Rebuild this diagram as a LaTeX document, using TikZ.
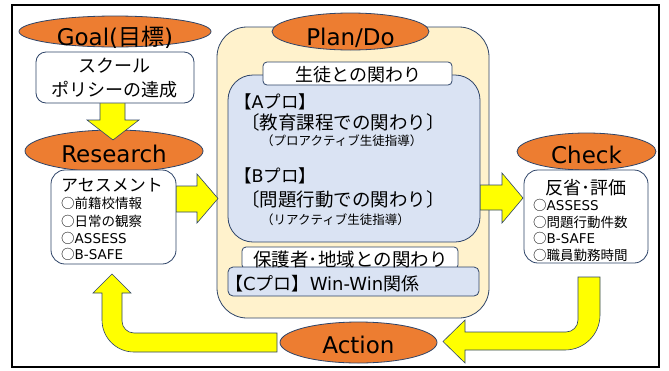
\documentclass[tikz,border=0pt]{standalone}
\usepackage{fontspec}
\setmainfont{Noto Sans CJK JP}
\newfontfamily\lat{DejaVu Sans}
\usetikzlibrary{shapes.geometric}
\definecolor{orng}{HTML}{ED7D31}
\definecolor{edgec}{HTML}{2E4468}
\definecolor{beige}{HTML}{FFF2CC}
\definecolor{lblue}{HTML}{DAE3F3}
\definecolor{yel}{HTML}{FFFF00}
\begin{document}
\begin{tikzpicture}[x=1pt,y=-1pt,
  ell/.style={ellipse,draw=edgec,fill=orng,line width=0.8pt,inner sep=0pt},
  rbox/.style={rectangle,draw=edgec,line width=0.8pt,inner sep=0pt},
  yarrow/.style={fill=yel,draw=edgec,line width=0.6pt,line join=miter},
  lbl/.style={inner sep=0pt,anchor=base},
  bigf/.style={font=\fontsize{23}{26}\selectfont},
  midf/.style={font=\fontsize{18}{20}\selectfont},
  smf/.style={font=\fontsize{13.5}{15}\selectfont},
]
\useasboundingbox (0,0) rectangle (669,370);
\fill[white] (0,0) rectangle (669,370);
\node[draw,line width=2pt,minimum width=647pt,minimum height=362pt,inner sep=0pt] (frame) at (335.5,186) {};

% Plan/Do area
\node[rbox,fill=beige,rounded corners=30pt,minimum width=272pt,minimum height=291pt] (plan) at (353,172.5) {};
% arrows into and out of plan
\draw[yarrow] (176,186) -- (197,186) -- (197,174) -- (218,198.5) -- (197,223) -- (197,212) -- (176,212) -- cycle;
\draw[yarrow] (480,185) -- (502,185) -- (502,173) -- (523,198) -- (502,223) -- (502,210) -- (480,210) -- cycle;
\node[rbox,fill=lblue,rounded corners=25pt,minimum width=252pt,minimum height=167pt] (abox) at (354,158.5) {};
\node[rbox,fill=white,rounded corners=4pt,minimum width=189pt,minimum height=23pt] (seito) at (357.5,73.5) {};
\node[rbox,fill=white,rounded corners=4pt,minimum width=216pt,minimum height=22pt] (hogo) at (350,258) {};
\node[rbox,fill=lblue,rounded corners=5pt,minimum width=251pt,minimum height=29pt] (cbox) at (353.5,281.5) {};
\node[ell,minimum width=157pt,minimum height=37pt] (planell) at (350.5,31.5) {};

\node[lbl,bigf] (plant) at (350.5,45) {\lat Plan/Do};
\node[lbl,midf] (seitot) at (358.5,81) {生徒との関わり};
\node[lbl,anchor=base west,font=\fontsize{17.5}{20}\selectfont] (apro) at (234,108.6) {【{\lat A}プロ】};
\node[lbl,anchor=base west,font=\fontsize{18.5}{20}\selectfont] (akyo) at (241,129.8) {〔教育課程での関わり〕};
\node[lbl,anchor=base west,font=\fontsize{12.5}{14}\selectfont] (apro2) at (261,145.8) {（プロアクティブ生徒指導）};
\node[lbl,anchor=base west,font=\fontsize{17.5}{20}\selectfont] (bpro) at (234,182.6) {【{\lat B}プロ】};
\node[lbl,anchor=base west,font=\fontsize{18.5}{20}\selectfont] (bmon) at (241,206.8) {〔問題行動での関わり〕};
\node[lbl,anchor=base west,font=\fontsize{12.5}{14}\selectfont] (bpro2) at (261,224.8) {（リアクティブ生徒指導）};
\node[lbl,font=\fontsize{18.5}{20}\selectfont] (hogot) at (350.5,266) {保護者･地域との関わり};
\node[lbl,anchor=base west,midf] (cprot) at (225,290) {【{\lat C}プロ】{\lat Win-Win}関係};

% Goal
\node[ell,minimum width=192pt,minimum height=31pt] (goal) at (115,31.5) {};
\node[lbl,bigf] (goalt) at (115,45) {{\lat Goal(}目標{\lat )}};
% Research
\node[ell,minimum width=178pt,minimum height=42pt] (research) at (114,151) {};
\node[lbl,bigf] (researcht) at (114,162) {\lat Research};
\draw[yarrow] (100,102) -- (100,120) -- (87,120) -- (113,140) -- (139,120) -- (125,120) -- (125,102) -- cycle;
\node[rbox,fill=white,rounded corners=10pt,minimum width=158pt,minimum height=51pt] (goalbox) at (115,77.5) {};
\node[lbl,midf] (g1) at (114,72.8) {スクール};
\node[lbl,midf] (g2) at (114,96.8) {ポリシーの達成};
\node[rbox,fill=white,rounded corners=14pt,minimum width=125pt,minimum height=94pt] (resbox) at (113.5,217) {};
\node[lbl,anchor=base west,font=\fontsize{17}{20}\selectfont] (r0) at (61,191.5) {アセスメント};
\node[lbl,anchor=base west,smf] (r1) at (61,208) {○前籍校情報};
\node[lbl,anchor=base west,smf] (r2) at (61,226) {○日常の観察};
\node[lbl,anchor=base west,smf] (r3) at (61,243) {○{\lat ASSESS}};
\node[lbl,anchor=base west,smf] (r4) at (61,259) {○{\lat B-SAFE}};

% Check
\node[ell,minimum width=139pt,minimum height=37pt] (check) at (586.5,151.5) {};
\node[lbl,bigf] (checkt) at (586.5,163) {\lat Check};
\node[rbox,fill=white,rounded corners=14pt,minimum width=124pt,minimum height=93pt] (chkbox) at (586,216.5) {};
\node[lbl,midf] (c0) at (586,194) {反省･評価};
\node[lbl,anchor=base west,smf] (c1) at (533,210) {○{\lat ASSESS}};
\node[lbl,anchor=base west,smf] (c2) at (533,227) {○問題行動件数};
\node[lbl,anchor=base west,smf] (c3) at (533,243) {○{\lat B-SAFE}};
\node[lbl,anchor=base west,smf] (c4) at (533,260) {○職員勤務時間};

% U-shaped arrows
\draw[yarrow] (277,352) -- (134,352) .. controls (116.3,352) and (102,337.7) .. (102,320) -- (102,293) -- (93,293) -- (112,274) -- (131,293) -- (122,293) -- (122,321) .. controls (122,327.6) and (127.4,333) .. (134,333) -- (277,333) -- cycle;
\draw[yarrow] (578,277) -- (600,277) -- (600,315) .. controls (600,334.3) and (584.3,350) .. (565,350) -- (465,350) -- (465,363) -- (443,341.5) -- (465,320) -- (465,332) -- (566,332) .. controls (572.6,332) and (578,326.6) .. (578,320) -- cycle;

% Action
\node[ell,minimum width=157pt,minimum height=41pt] (action) at (358.5,342.5) {};
\node[lbl,bigf] (actiont) at (358.5,353) {\lat Action};
\end{tikzpicture}
\end{document}
